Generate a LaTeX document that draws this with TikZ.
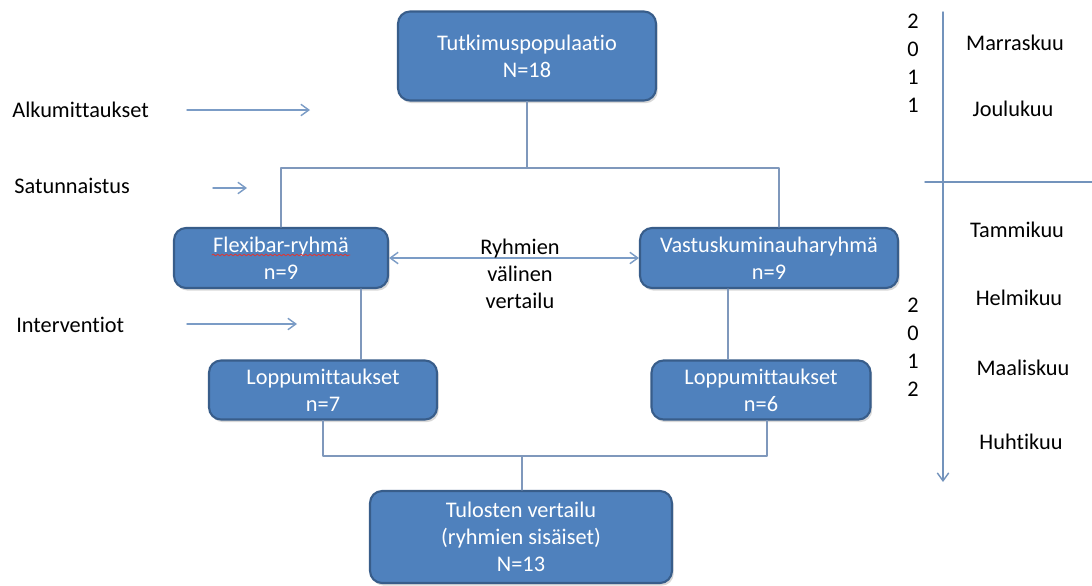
\documentclass[tikz,border=0pt]{standalone}
\usepackage{fontspec}
\setmainfont{Carlito}[Ligatures={NoCommon}]
\usetikzlibrary{arrows.meta,calc,shadows,decorations.pathmorphing}
\definecolor{boxfill}{HTML}{4F81BD}
\definecolor{boxedge}{HTML}{385D8A}
\definecolor{linkblue}{HTML}{7F98BC}
\definecolor{arrblue}{HTML}{7B9CC6}
\definecolor{tlblue}{HTML}{7393BC}
\definecolor{spellred}{HTML}{D83A3A}

\begin{document}
\begin{tikzpicture}[x=0.02cm,y=-0.02cm,>={Straight Barb[length=4.5pt,width=6.5pt]},
  line cap=round,line join=round,
  font=\fontsize{12.7}{15.5}\selectfont,
  box/.style={draw=boxedge,line width=1.2pt,fill=boxfill,rounded corners=0.24cm,
    text=white,align=center,inner sep=2pt,
    drop shadow={shadow xshift=1pt,shadow yshift=-1.5pt,opacity=.3}},
  link/.style={linkblue,line width=0.8pt},
  arr/.style={arrblue,line width=0.8pt,->},
  lbl/.style={anchor=west,inner sep=0pt},
  month/.style={inner sep=0pt},
  year/.style={inner sep=0pt,align=center,font=\fontsize{12.7}{16}\selectfont}]
\path[use as bounding box] (0,0) rectangle (1092,585);
\fill[white] (0,0) rectangle (1092,585);

% laatikot
\node[box,minimum width=5.16cm,minimum height=1.78cm] (pop) at (527,56)
  {Tutkimuspopulaatio\\N=18};
\node[box,minimum width=4.28cm,minimum height=1.2cm] (flex) at (281,258)
  {Flexibar-ryhmä\\n=9};
\node[box,minimum width=5.16cm,minimum height=1.2cm] (vast) at (769,258)
  {Vastuskuminauharyhmä\\n=9};
\node[box,minimum width=4.56cm,minimum height=1.18cm] (loppuL) at (323,390)
  {Loppumittaukset\\n=7};
\node[box,minimum width=4.38cm,minimum height=1.18cm] (loppuR) at (761,390)
  {Loppumittaukset\\n=6};
\node[box,minimum width=6.04cm,minimum height=1.84cm] (tul) at (521,537)
  {Tulosten vertailu\\(ryhmien sisäiset)\\N=13};

% oikeinkirjoituksen aaltoviiva
\draw[spellred,line width=0.5pt,decorate,decoration={snake,amplitude=0.5pt,segment length=2.5pt}]
  (212,255) -- (350,255);

% yhdysviivat
\coordinate (split) at (527,168);
\coordinate (join) at (522,456);
\draw[link] (pop.south) -- (split);
\draw[link] (flex.north) |- (split);
\draw[link] ([xshift=0.2cm]vast.north) |- (split);
\draw[link] ([xshift=1.6cm]flex.south) -- ([xshift=1.6cm]flex.south |- loppuL.north);
\draw[link] ([xshift=-0.82cm]vast.south) -- ([xshift=-0.82cm]vast.south |- loppuR.north);
\draw[link] (loppuL.south) |- (join);
\draw[link] ([xshift=0.12cm]loppuR.south) |- (join);
\draw[link] (join) -- (join |- tul.north);
\draw[arr,<->] (flex.east) -- (vast.west);
\node[align=center,inner sep=0pt] (vert) at (520,274) {Ryhmien\\välinen\\vertailu};

% vaiheet vasemmalla
\node[lbl] (alku) at (12,110) {Alkumittaukset};
\node[lbl] (satu) at (14,186) {Satunnaistus};
\node[lbl] (inter) at (16,325) {Interventiot};
\coordinate (alkuA) at (187,110);  \coordinate (alkuB) at (310,110);
\coordinate (satuA) at (213,188);  \coordinate (satuB) at (247,188);
\coordinate (interA) at (187,324); \coordinate (interB) at (297,324);
\draw[arr] (alkuA) -- (alkuB);
\draw[arr] (satuA) -- (satuB);
\draw[arr] (interA) -- (interB);

% aikajana
\coordinate (tlTop) at (943,12);
\coordinate (tlEnd) at (943,482);
\coordinate (yrA) at (925,182);
\coordinate (yrB) at (1092,182);
\draw[tlblue,line width=0.8pt,->] (tlTop) -- (tlEnd);
\draw[tlblue,line width=0.8pt] (yrA) -- (yrB);
\node[year] (y2011) at (913,63.5) {2\\0\\1\\1};
\node[year] (y2012) at (913,347.5) {2\\0\\1\\2};
\node[month] (marr) at (1015,43) {Marraskuu};
\node[month] (joulu) at (1013,109) {Joulukuu};
\node[month] (tammi) at (1017,230) {Tammikuu};
\node[month] (helmi) at (1019,298) {Helmikuu};
\node[month] (maali) at (1023,368) {Maaliskuu};
\node[month] (huhti) at (1021,442) {Huhtikuu};
\end{tikzpicture}
\end{document}
